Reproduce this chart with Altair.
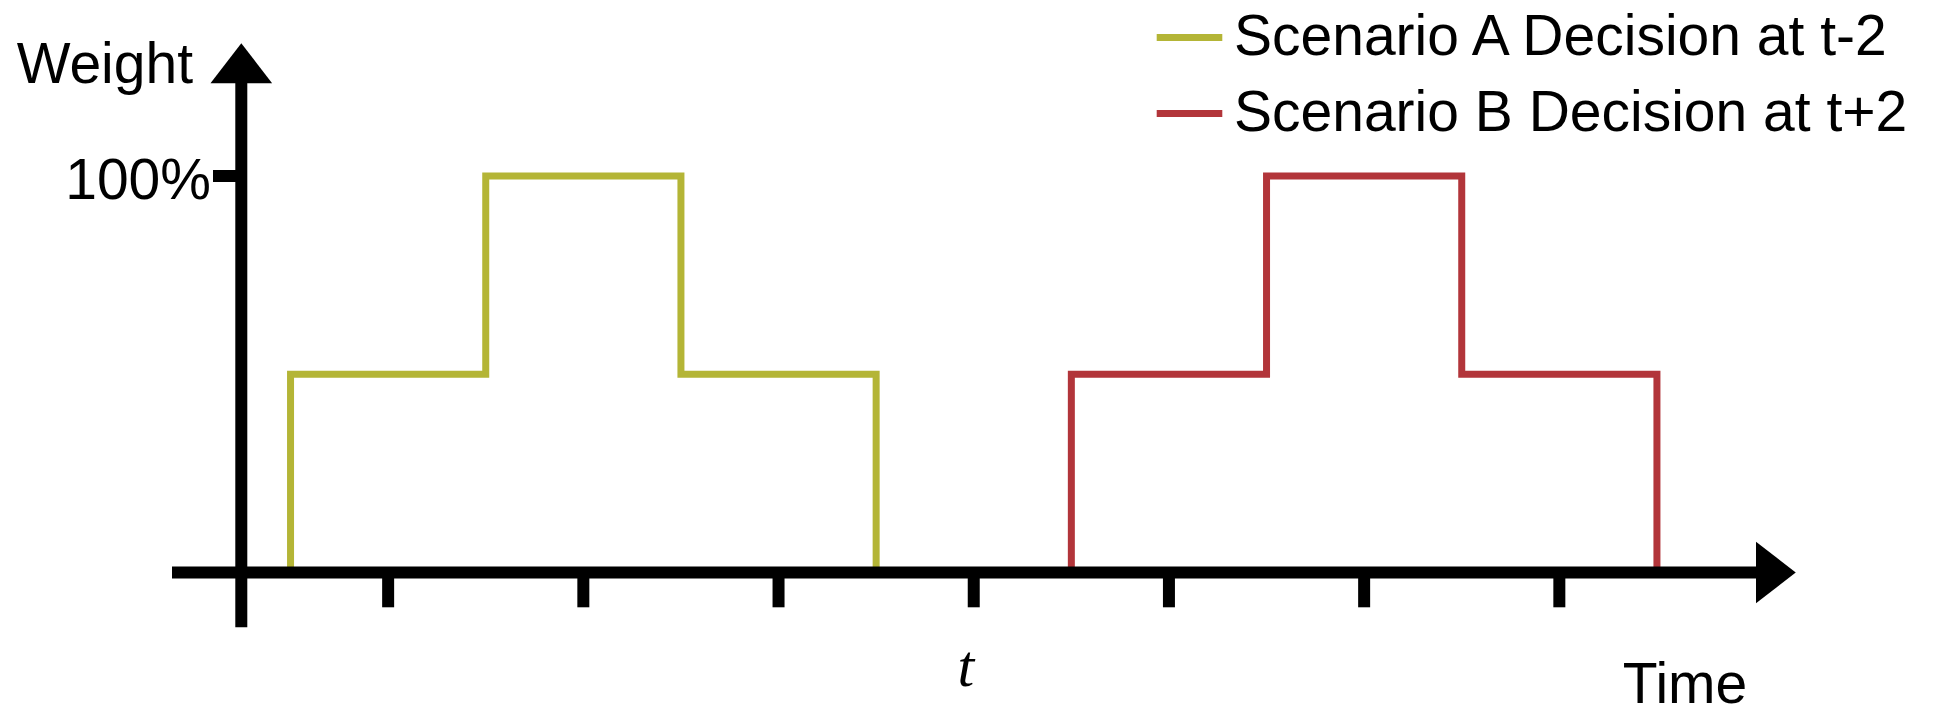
import altair as alt
import pandas as pd

# ---------------- data ----------------
series_names = ["Scenario A Decision at t-2", "Scenario B Decision at t+2"]
series_colors = ["#b4b536", "#b2353a"]

# step edges on the time axis (in periods relative to t) and weight levels (%)
a_edges = [-3.5, -2.5, -1.5, -0.5]
a_weights = [50, 100, 50]
b_edges = [0.5, 1.5, 2.5, 3.5]
b_weights = [50, 100, 50]

x_ticks = [-3, -2, -1, 0, 1, 2, 3]
x_tick_labels = ["", "", "", "t", "", "", ""]
y_ticks = [100]
y_tick_labels = ["100%"]

y_title = "Weight"
x_title = "Time"

# ---------------- layout ----------------
W, H = 1926, 696          # whole chart (page margin is 8 px)
MARGIN = 8
T_PAGE_X, PX_PER_STEP = 973.74, 195.2     # page-px of t, px per period
ZERO_PAGE_Y, PX_PER_PCT = 572.5, 3.965    # page-px of 0 %, px per %

X0_PX = T_PAGE_X - MARGIN
Y0_PX = ZERO_PAGE_Y - MARGIN
x_domain = [-X0_PX / PX_PER_STEP, (W - X0_PX) / PX_PER_STEP]
y_domain = [-(H - Y0_PX) / PX_PER_PCT, Y0_PX / PX_PER_PCT]
xs = alt.Scale(domain=x_domain, zero=False, nice=False)
ys = alt.Scale(domain=y_domain, zero=False, nice=False)


def kx(page_x):
    return (page_x - T_PAGE_X) / PX_PER_STEP


def wy(page_y):
    return (ZERO_PAGE_Y - page_y) / PX_PER_PCT


Y_AXIS_X = kx(241.3)
Y_AXIS_BOTTOM = wy(627.3)
ARROW_UP_BASE = wy(83.3)
X_AXIS_LEFT = kx(172)
ARROW_RIGHT_BASE = kx(1756)
TICK_BOTTOM = wy(607.3)
Y_TICK_LEFT = kx(213)
TICK_LABEL_Y = wy(685.7)

FONT = "Liberation Sans"
FS = 57


def step_points(name, edges, weights):
    rows = [(edges[0], 0)]
    for i, w in enumerate(weights):
        rows.append((edges[i], w))
        rows.append((edges[i + 1], w))
    rows.append((edges[-1], 0))
    return [{"series": name, "time": x, "weight": y, "order": j} for j, (x, y) in enumerate(rows)]


lines_df = pd.DataFrame(
    step_points(series_names[0], a_edges, a_weights) + step_points(series_names[1], b_edges, b_weights)
)

X = lambda f: alt.X(f, type="quantitative", scale=xs, axis=None)
Y = lambda f: alt.Y(f, type="quantitative", scale=ys, axis=None)

lines = alt.Chart(lines_df).mark_line(strokeWidth=7, strokeJoin="miter", strokeCap="butt").encode(
    x=X("time"),
    y=Y("weight"),
    order="order:Q",
    color=alt.Color(
        "series:N",
        scale=alt.Scale(domain=series_names, range=series_colors),
        legend=alt.Legend(
            title=None,
            orient="none",
            legendX=1145,
            legendY=-7,
            padding=0,
            symbolType="stroke",
            symbolStrokeWidth=7,
            symbolSize=4303,
            labelFont=FONT,
            labelFontSize=FS,
            labelColor="black",
            labelOffset=8,
            labelLimit=1000,
            rowPadding=11,
        ),
    ),
)

# axes drawn as marks
y_axis = alt.Chart(pd.DataFrame({"x": [Y_AXIS_X], "y": [Y_AXIS_BOTTOM], "y2": [ARROW_UP_BASE + 1]})).mark_rule(
    strokeWidth=12, color="black"
).encode(x=X("x"), y=Y("y"), y2="y2")

x_axis = alt.Chart(pd.DataFrame({"x": [X_AXIS_LEFT], "x2": [ARROW_RIGHT_BASE + 0.01], "y": [0]})).mark_rule(
    strokeWidth=12, color="black"
).encode(x=X("x"), x2="x2", y=Y("y"))

ticks_df = pd.DataFrame({"x": x_ticks, "y": [0] * len(x_ticks), "y2": [TICK_BOTTOM] * len(x_ticks), "label": x_tick_labels})
x_tick_marks = alt.Chart(ticks_df).mark_rule(strokeWidth=12, color="black").encode(x=X("x"), y=Y("y"), y2="y2")
x_tick_text = alt.Chart(ticks_df).mark_text(
    font="Liberation Serif", fontStyle="italic", fontSize=60, align="center", baseline="alphabetic", dx=-8, color="black"
).encode(x=X("x"), y=alt.Y(datum=TICK_LABEL_Y, scale=ys, axis=None), text="label:N")

yt_df = pd.DataFrame({"x": [Y_TICK_LEFT] * len(y_ticks), "x2": [Y_AXIS_X] * len(y_ticks), "y": y_ticks, "label": y_tick_labels})
y_tick_marks = alt.Chart(yt_df).mark_rule(strokeWidth=12, color="black").encode(x=X("x"), x2="x2", y=Y("y"))
y_tick_text = alt.Chart(yt_df).mark_text(
    font=FONT, fontSize=FS, align="right", baseline="alphabetic", dx=-2, dy=23, color="black"
).encode(x=X("x"), y=Y("y"), text="label:N")

arrow_up = alt.Chart(pd.DataFrame({"x": [Y_AXIS_X], "y": [ARROW_UP_BASE]})).mark_point(
    shape="M-1,0L1,0L0,-1.3Z", size=3800, filled=True, opacity=1, color="black"
).encode(x=X("x"), y=Y("y"))
arrow_right = alt.Chart(pd.DataFrame({"x": [ARROW_RIGHT_BASE], "y": [0]})).mark_point(
    shape="M0,-1L0,1L1.29,0Z", size=3800, filled=True, opacity=1, color="black"
).encode(x=X("x"), y=Y("y"))

titles_df = pd.DataFrame(
    {"label": [y_title, x_title], "x": [kx(193), kx(1622.7)], "y": [wy(83.3), wy(703)]}
)
y_title_text = alt.Chart(titles_df.iloc[[0]]).mark_text(
    font=FONT, fontSize=FS, align="right", baseline="alphabetic", color="black"
).encode(x=X("x"), y=Y("y"), text="label:N")
x_title_text = alt.Chart(titles_df.iloc[[1]]).mark_text(
    font=FONT, fontSize=FS, align="left", baseline="alphabetic", color="black"
).encode(x=X("x"), y=Y("y"), text="label:N")

chart = (
    alt.layer(
        lines, y_axis, x_axis, x_tick_marks, y_tick_marks, arrow_up, arrow_right,
        x_tick_text, y_tick_text, y_title_text, x_title_text,
    )
    .properties(width=W, height=H, autosize=alt.AutoSizeParams(type="none"), padding=0, background="white")
    .configure_view(strokeWidth=0)
)

chart.save("out.html", embed_options={"renderer": "svg", "actions": False})
